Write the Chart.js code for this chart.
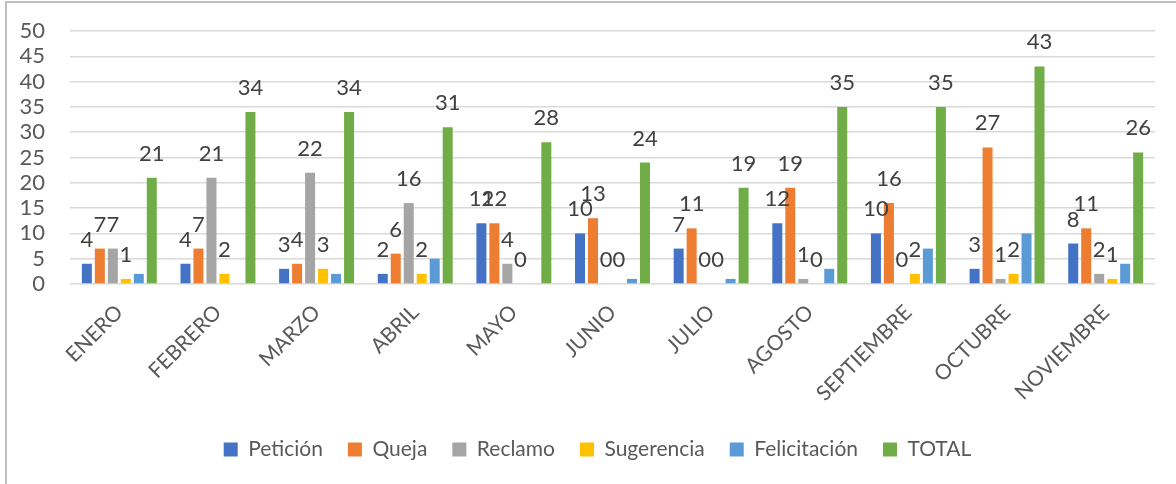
<!DOCTYPE html>
<html>
<head>
<meta charset="utf-8">
<script src="https://cdn.jsdelivr.net/npm/chart.js@4"></script>
<style>
    body { margin: 0; background: #fff; }
    #wrap { position: relative; width: 1176px; height: 484px; }
    #frame { position: absolute; left: 5px; top: 1px; width: 1200px; height: 600px;
             border-left: 2px solid #bfbfbf; border-top: 2px solid #bfbfbf; }
</style>
</head>
<body>
<div id="wrap">
    <div id="frame"></div>
    <canvas id="chart"></canvas>
</div>
<script>
const months = ["ENERO", "FEBRERO", "MARZO", "ABRIL", "MAYO", "JUNIO", "JULIO", "AGOSTO", "SEPTIEMBRE", "OCTUBRE", "NOVIEMBRE"];
const peticion     = [4, 4, 3, 2, 12, 10, 7, 12, 10, 3, 8];
const queja        = [7, 7, 4, 6, 12, 13, 11, 19, 16, 27, 11];
const reclamo      = [7, 21, 22, 16, 4, 0, 0, 1, 0, 1, 2];
const sugerencia   = [1, 2, 3, 2, 0, 0, 0, 0, 2, 2, 1];
const felicitacion = [2, 0, 2, 5, 0, 1, 1, 3, 7, 10, 4];
const total        = [21, 34, 34, 31, 28, 24, 19, 35, 35, 43, 26];

const FONT = "Lato";

// data labels drawn above the bars (Felicitación has none)
const barLabels = {
    id: "barLabels",
    afterLayout(chart) {
        // the legend sits a little right of centre in the original
        chart.legend.left += 17;
        chart.legend.right += 17;
    },
    afterDatasetsDraw(chart) {
        const ctx = chart.ctx;
        ctx.save();
        ctx.font = "22px " + FONT;
        ctx.fillStyle = "#404040";
        ctx.textAlign = "center";
        ctx.textBaseline = "alphabetic";
        chart.data.datasets.forEach(function (ds, i) {
            if (!ds.showLabels) return;
            chart.getDatasetMeta(i).data.forEach(function (bar, j) {
                ctx.fillText(String(ds.data[j]), bar.x, bar.y - 17);
            });
        });
        ctx.restore();
    }
};

const ctx = document.getElementById("chart").getContext("2d");
new Chart(ctx, {
    type: "bar",
    data: {
        labels: months,
        datasets: [
            { label: "Petición", data: peticion, backgroundColor: "#4472C4", showLabels: true },
            { label: "Queja", data: queja, backgroundColor: "#ED7D31", showLabels: true },
            { label: "Reclamo", data: reclamo, backgroundColor: "#A5A5A5", showLabels: true },
            { label: "Sugerencia", data: sugerencia, backgroundColor: "#FFC000", showLabels: true },
            { label: "Felicitación", data: felicitacion, backgroundColor: "#5B9BD5", showLabels: false },
            { label: "TOTAL", data: total, backgroundColor: "#70AD47", showLabels: true }
        ]
    },
    options: {
        responsive: true,
        maintainAspectRatio: false,
        animation: false,
        datasets: {
            bar: { categoryPercentage: 0.79, barPercentage: 0.77 }
        },
        layout: { padding: { left: 6, top: 31, right: 21, bottom: 14 } },
        plugins: {
            tooltip: { enabled: false },
            legend: {
                position: "bottom",
                labels: {
                    font: { family: FONT, size: 21 },
                    color: "#595959",
                    boxWidth: 14,
                    boxHeight: 14,
                    padding: 25
                }
            }
        },
        scales: {
            x: {
                grid: { display: false },
                border: { display: false },
                ticks: {
                    font: { family: FONT, size: 21 },
                    color: "#595959",
                    autoSkip: false,
                    minRotation: 45,
                    maxRotation: 45,
                    padding: 8
                },
                afterFit: function (scale) { scale.height = 130; }
            },
            y: {
                min: 0,
                max: 50,
                grid: { color: "#d9d9d9", lineWidth: 1.5, drawTicks: false },
                border: { display: false },
                ticks: {
                    stepSize: 5,
                    autoSkip: false,
                    font: { family: FONT, size: 22 },
                    color: "#595959",
                    padding: 25
                },
                afterFit: function (scale) {
                    scale.width = 64;
                    scale.paddingTop = 0;
                }
            }
        }
    },
    plugins: [barLabels]
});
</script>
</body>
</html>
